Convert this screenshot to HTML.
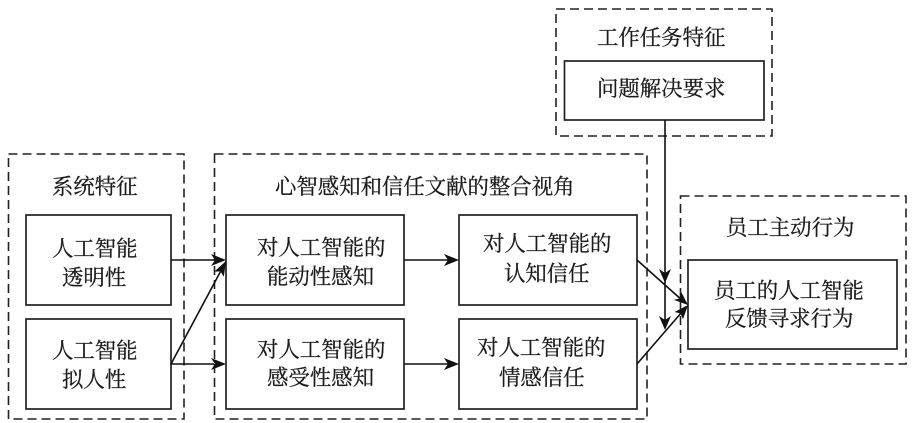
<!DOCTYPE html>
<html lang="zh">
<head>
<meta charset="utf-8">
<style>
html,body{margin:0;padding:0;background:#fff;width:912px;height:423px;overflow:hidden}
svg{display:block;filter:blur(.35px)}
text{font-family:"Liberation Serif","Noto Serif CJK SC",serif;font-size:21.4px;fill:#1c1c1c;stroke:#1c1c1c;stroke-width:.3}
.d{fill:none;stroke:#222;stroke-width:1.6;stroke-dasharray:9 5}
.b{fill:#fff;stroke:#222;stroke-width:1.7}
.l{fill:none;stroke:#111;stroke-width:1.6}
.a{fill:#111;stroke:none}
</style>
</head>
<body>
<svg width="912" height="423" viewBox="0 0 912 423" xmlns="http://www.w3.org/2000/svg">
<rect class="d" x="8.5" y="154" width="175.5" height="265"/>
<rect class="d" x="214.5" y="154" width="432.5" height="265"/>
<rect class="d" x="680.5" y="196" width="225.5" height="168"/>
<rect class="d" x="556" y="9" width="216" height="127"/>

<rect class="b" x="26" y="215" width="145" height="90"/>
<rect class="b" x="26" y="319" width="145" height="90"/>
<rect class="b" x="226" y="215" width="178" height="90"/>
<rect class="b" x="226" y="319" width="178" height="90"/>
<rect class="b" x="459" y="215" width="178" height="90"/>
<rect class="b" x="459" y="319" width="178" height="90"/>
<rect class="b" x="688" y="260" width="209" height="89"/>
<rect class="b" x="564.5" y="61" width="199.5" height="59"/>

<path class="l" d="M171 260H214M171 364L220.500 271.500M171 364H214M404 260H448M404 364H448M637 260L680 298.400M637 364L680.600 313.500M665 120V320"/>
<polygon class="a" points="226,260 211,254 215,260 211,266"/>
<polygon class="a" points="226,261 214.200,271.600 220.500,271.400 223.800,276.800"/>
<polygon class="a" points="226,364 211,358 215,364 211,370"/>
<polygon class="a" points="459,260 444,254 448,260 444,266"/>
<polygon class="a" points="459,364 444,358 448,364 444,370"/>
<polygon class="a" points="688,305 681.100,291.700 680,298.400 673.900,299.900"/>
<polygon class="a" points="688,305 674.600,312 680.600,313.500 683,319.200"/>
<polygon class="a" points="665,283 659,269 665,273 671,269"/>
<polygon class="a" points="665,330 659,316 665,320 671,316"/>

<text x="52" y="194">系统特征</text>
<text x="52" y="256">人工智能</text>
<text x="62" y="285">透明性</text>
<text x="52" y="358">人工智能</text>
<text x="62" y="387">拟人性</text>

<text x="275" y="194">心智感知和信任文献的整合视角</text>
<text x="257" y="255">对人工智能的</text>
<text x="267" y="284">能动性感知</text>
<text x="257" y="357">对人工智能的</text>
<text x="267" y="385">感受性感知</text>
<text x="483" y="251">对人工智能的</text>
<text x="504" y="281">认知信任</text>
<text x="477" y="355">对人工智能的</text>
<text x="499" y="385">情感信任</text>

<text x="726" y="235">员工主动行为</text>
<text x="714" y="298">员工的人工智能</text>
<text x="725" y="326">反馈寻求行为</text>

<text x="597" y="45">工作任务特征</text>
<text x="597" y="96">问题解决要求</text>
</svg>
</body>
</html>
